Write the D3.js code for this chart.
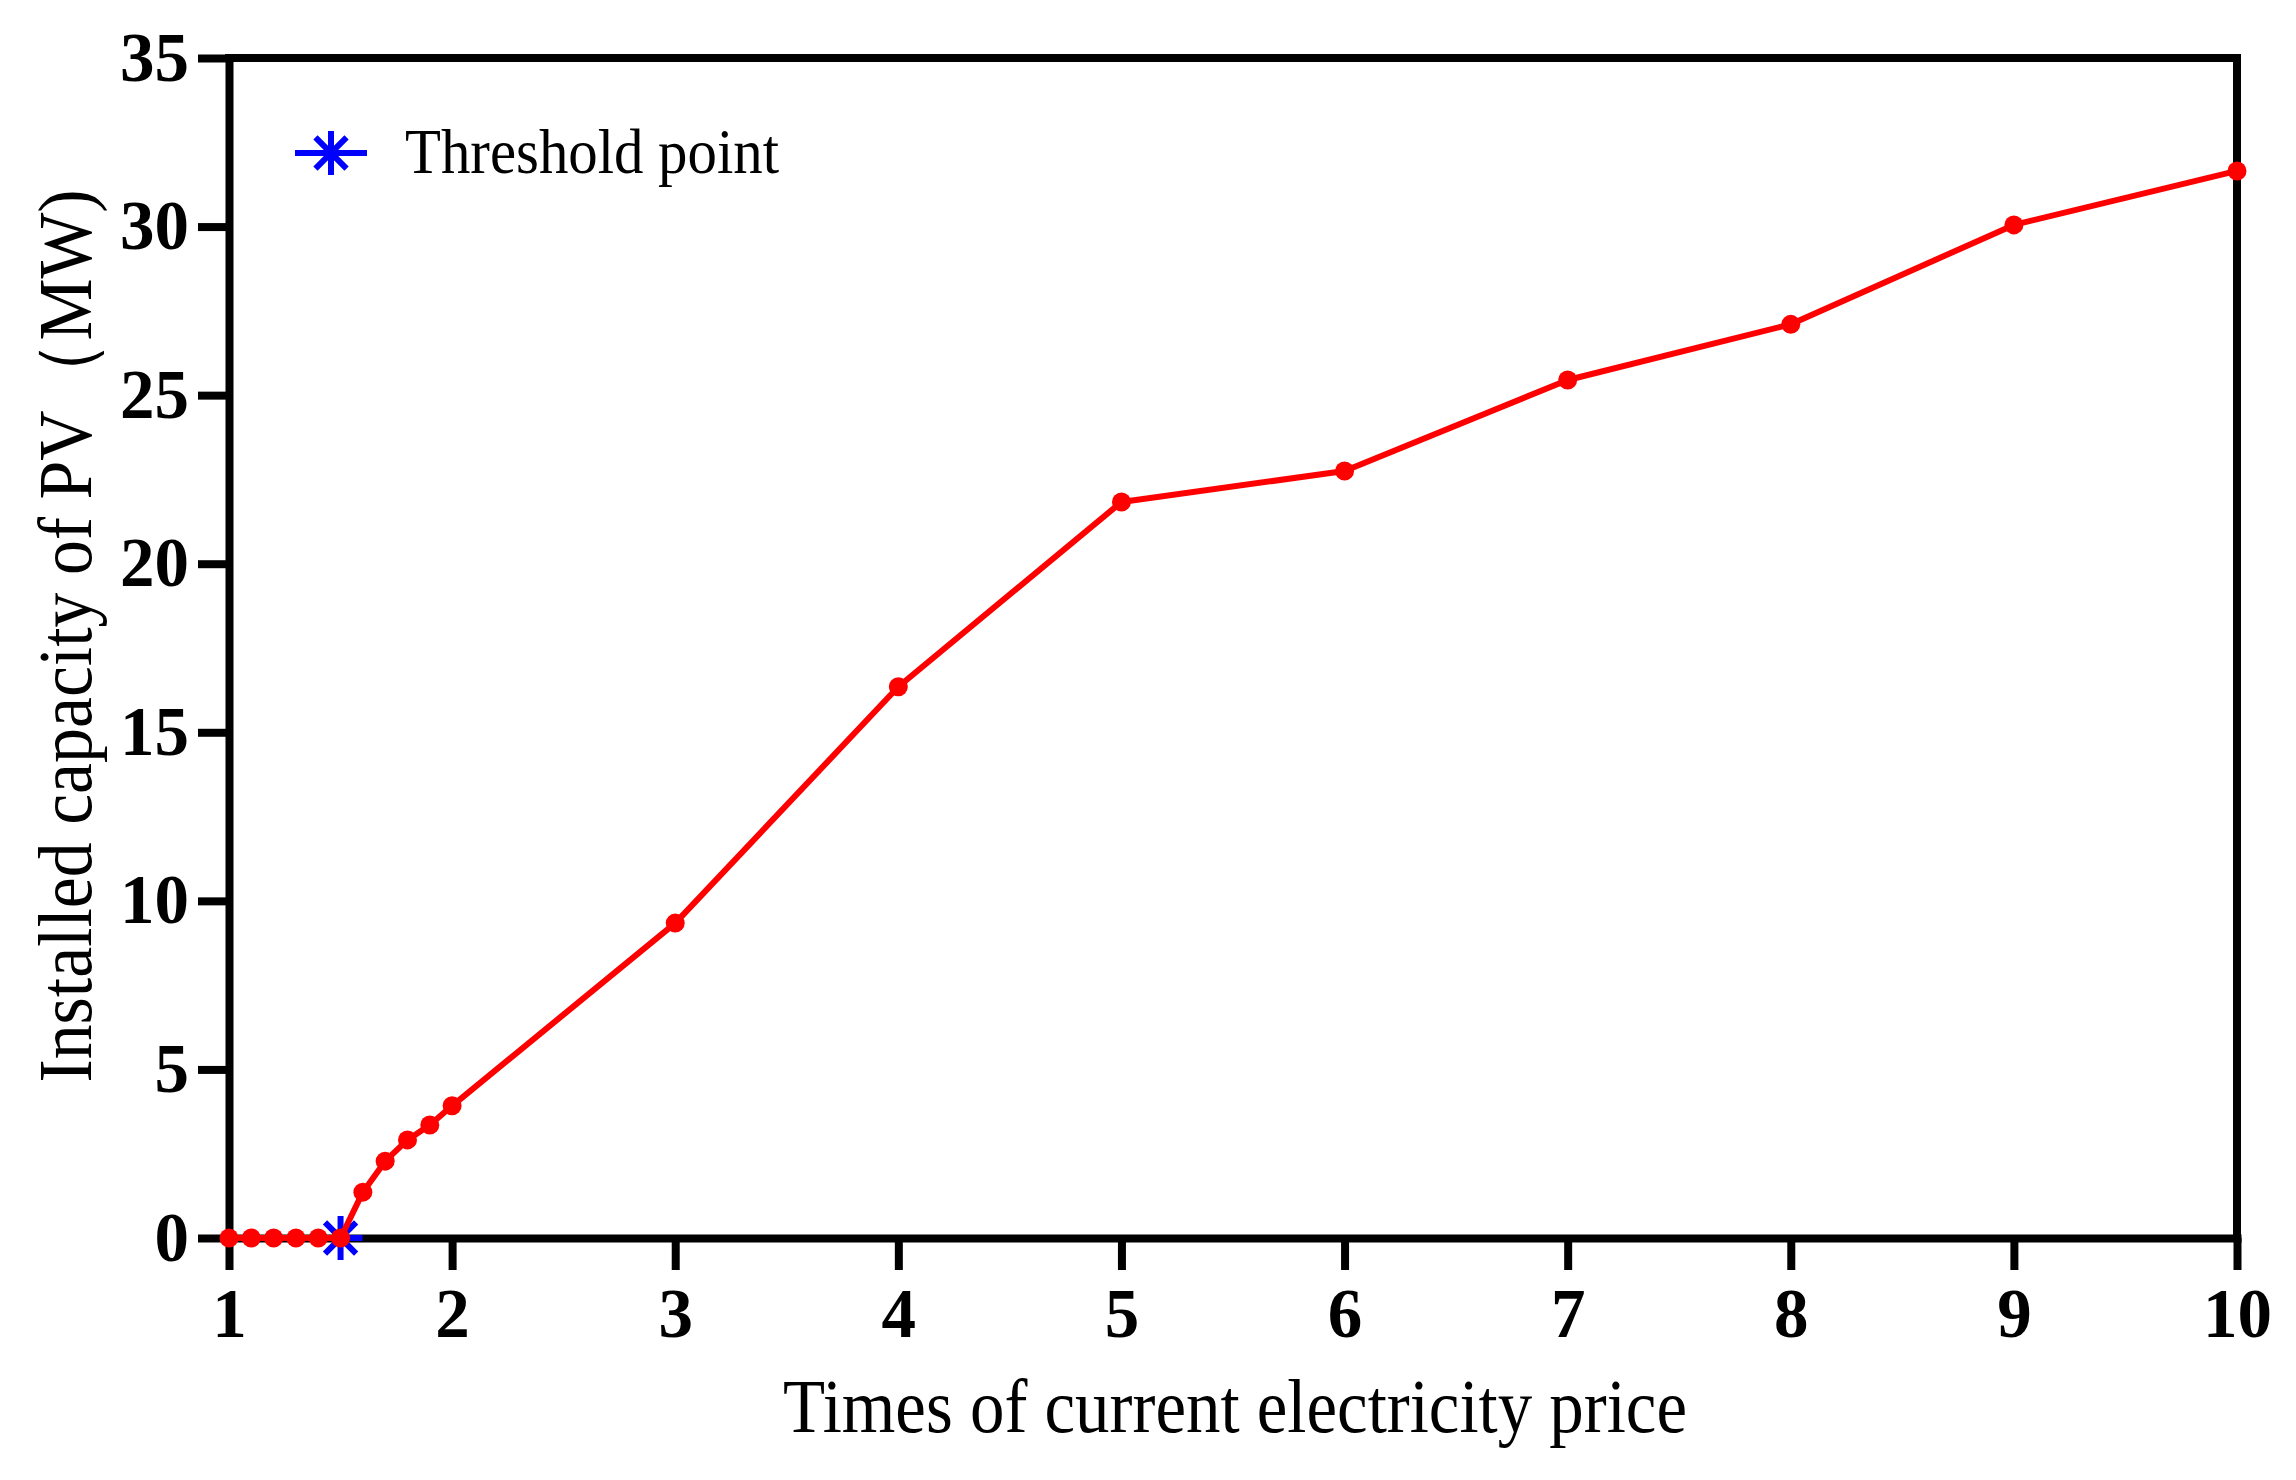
<!DOCTYPE html>
<html>
<head>
<meta charset="utf-8">
<script src="https://cdn.jsdelivr.net/npm/d3@7"></script>
<style>
  html, body { margin: 0; padding: 0; background: #fff; }
  svg { display: block; }
</style>
</head>
<body>
<svg id="chart" width="2296" height="1480"></svg>
<script>
// values
const priceTimes = [1, 1.1, 1.2, 1.3, 1.4, 1.5, 1.6, 1.7, 1.8, 1.9, 2, 3, 4, 5, 6, 7, 8, 9, 10];
const capacityMW = [0, 0, 0, 0, 0, 0, 1.36, 2.28, 2.91, 3.35, 3.92, 9.34, 16.35, 21.83, 22.75, 25.45, 27.1, 30.05, 31.65];
const thresholdPoint = [1.5, 0];
const xTicks = [1, 2, 3, 4, 5, 6, 7, 8, 9, 10];
const yTicks = [0, 5, 10, 15, 20, 25, 30, 35];

const LINE_COLOR = "#ff0000";
const STAR_COLOR = "#0000ff";
const SERIF = "'Liberation Serif', 'Times New Roman', serif";

const svg = d3.select("#chart");
const x = d3.scaleLinear().domain([1, 10]).range([229, 2237]);
const y = d3.scaleLinear().domain([0, 35]).range([1238, 58]);

const data = priceTimes.map((p, i) => ({ p, v: capacityMW[i] }));

// asterisk: vertical, horizontal and both diagonals
const STAR_R = 22;
function starPath(r) {
  const d = r * Math.SQRT1_2;
  return `M0,${-r}V${r}M${-r},0H${r}M${-d},${-d}L${d},${d}M${d},${-d}L${-d},${d}`;
}

// axes
const xAxis = svg.append("g")
  .attr("transform", `translate(0,${y(0)})`)
  .call(d3.axisBottom(x).tickValues(xTicks).tickSize(32).tickSizeOuter(0).tickPadding(18));
const yAxis = svg.append("g")
  .attr("transform", `translate(${x(1)},0)`)
  .call(d3.axisLeft(y).tickValues(yTicks).tickSize(31).tickSizeOuter(0).tickPadding(9));

[xAxis, yAxis].forEach(g => {
  g.selectAll(".domain, .tick line").attr("stroke", "#000").attr("stroke-width", 8);
  g.select(".domain").attr("stroke-linecap", "square");
  g.selectAll("text")
    .attr("fill", "#000")
    .attr("font-family", SERIF)
    .attr("font-weight", "bold")
    .attr("font-size", 69);
});

// frame top and right
svg.append("path")
  .attr("d", `M${x(1)},${y(35)}H${x(10)}V${y(0)}`)
  .attr("fill", "none")
  .attr("stroke", "#000")
  .attr("stroke-width", 8)
  .attr("stroke-linecap", "square");

// threshold asterisk (under the line)
svg.append("path")
  .attr("d", starPath(STAR_R))
  .attr("transform", `translate(${x(thresholdPoint[0])},${y(thresholdPoint[1])})`)
  .attr("stroke", STAR_COLOR)
  .attr("stroke-width", 6)
  .attr("fill", "none");

// series
svg.append("path")
  .datum(data)
  .attr("d", d3.line().x(d => x(d.p)).y(d => y(d.v)))
  .attr("fill", "none")
  .attr("stroke", LINE_COLOR)
  .attr("stroke-width", 6)
  .attr("stroke-linejoin", "round");

svg.selectAll(".pt")
  .data(data)
  .join("circle")
  .attr("class", "pt")
  .attr("cx", d => x(d.p))
  .attr("cy", d => y(d.v))
  .attr("r", 9.5)
  .attr("fill", LINE_COLOR);

// legend
const legend = svg.append("g").attr("transform", "translate(331,153)");
legend.append("line")
  .attr("x1", -36).attr("x2", 36)
  .attr("stroke", STAR_COLOR).attr("stroke-width", 6);
legend.append("path")
  .attr("d", starPath(STAR_R))
  .attr("stroke", STAR_COLOR).attr("stroke-width", 6).attr("fill", "none");
legend.append("text")
  .attr("x", 74).attr("y", 20)
  .attr("font-family", SERIF)
  .attr("font-size", 64)
  .attr("textLength", 374)
  .attr("lengthAdjust", "spacingAndGlyphs")
  .text("Threshold point");

// axis titles
svg.append("text")
  .attr("x", 1235).attr("y", 1432)
  .attr("text-anchor", "middle")
  .attr("font-family", SERIF)
  .attr("font-size", 76)
  .attr("textLength", 904)
  .attr("lengthAdjust", "spacingAndGlyphs")
  .text("Times of  current electricity price");

svg.append("text")
  .attr("transform", "translate(91,636) rotate(-90)")
  .attr("text-anchor", "middle")
  .attr("font-family", SERIF)
  .attr("font-size", 76)
  .attr("textLength", 893)
  .attr("lengthAdjust", "spacingAndGlyphs")
  .text("Installed capacity of  PV\uFF08MW)");
</script>
</body>
</html>
